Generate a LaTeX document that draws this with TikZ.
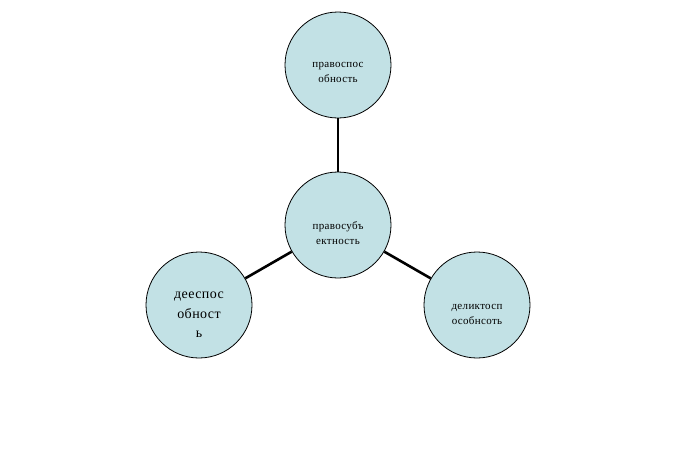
\documentclass[tikz,border=0pt]{standalone}
\usepackage{fontspec}
\setmainfont{Liberation Serif}
\definecolor{nodefill}{HTML}{C2E1E5}
\begin{document}
\begin{tikzpicture}[x=1pt,y=-1pt,
  bubble/.style={circle,draw=black,line width=0.8pt,fill=nodefill,minimum size=106pt,inner sep=0pt},
  caption/.style={align=center,inner sep=0pt,font=\fontsize{11}{15}\selectfont\addfontfeature{LetterSpace=3}},
  bigcaption/.style={align=center,inner sep=0pt,font=\fontsize{14}{19.5}\selectfont\addfontfeature{LetterSpace=3}},
  link/.style={line width=2.6pt}]
\useasboundingbox (0,0) rectangle (675,450);
\node[bubble] (top) at (338,65) {};
\node[bubble] (mid) at (338,225) {};
\node[bubble] (left) at (199,305) {};
\node[bubble] (right) at (477,305) {};
\draw[link] (top) -- (mid);
\draw[link] (mid) -- (left);
\draw[link] (mid) -- (right);
\node[caption] (toptext) at (338,72) {правоспос\\обность};
\node[caption] (midtext) at (338,233) {правосубъ\\ектность};
\node[bigcaption] (lefttext) at (199,315) {дееспос\\обност\\ь};
\node[caption] (righttext) at (477,314) {деликтосп\\особнсоть};
\end{tikzpicture}
\end{document}
